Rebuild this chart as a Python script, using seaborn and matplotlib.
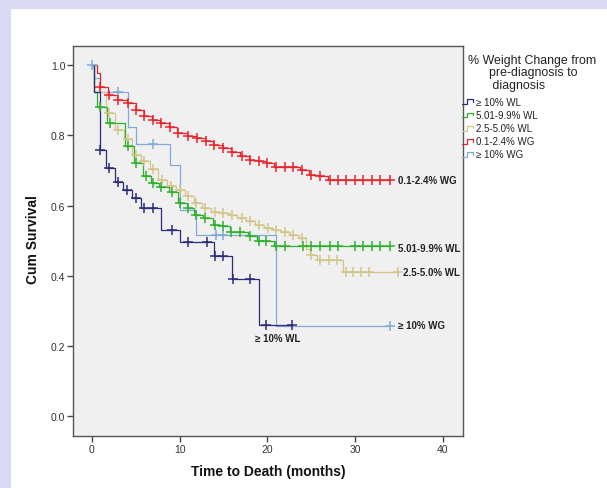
import numpy as np
import pandas as pd
import seaborn as sns
import matplotlib.pyplot as plt
from matplotlib.legend_handler import HandlerBase
from matplotlib.lines import Line2D
from matplotlib.patches import Rectangle
from matplotlib.ticker import FormatStrFormatter

# group names and colours (legend order)
groups = ["≥ 10% WL", "5.01-9.9% WL", "2.5-5.0% WL", "0.1-2.4% WG", "≥ 10% WG"]
colors = ["#2b2d7c", "#2fb02f", "#d3c68c", "#e8242c", "#80aad8"]

# step times / survival after each event, censor times
wl10_times = [0.3, 1.0, 1.6, 2.6, 3.6, 4.6, 5.6, 7.9, 10.0, 13.9, 16.0, 19.0]
wl10_surv = [0.925, 0.759, 0.708, 0.667, 0.645, 0.621, 0.593, 0.531, 0.496, 0.455, 0.390, 0.26]
wl10_cens = [1.0, 2.0, 3.0, 4.0, 5.1, 6.0, 7.0, 9.1, 11.0, 13.1, 14.0, 15.0, 16.1, 18.0, 19.9, 22.8]

wl5_times = [0.3, 0.6, 1.7, 3.8, 4.8, 5.85, 6.8, 7.7, 8.8, 9.8, 10.8, 11.7, 12.7, 13.8,
             14.8, 15.7, 17.8, 18.8, 20.8]
wl5_surv = [0.925, 0.882, 0.835, 0.771, 0.721, 0.683, 0.664, 0.654, 0.640, 0.607, 0.593,
            0.573, 0.564, 0.545, 0.541, 0.526, 0.512, 0.498, 0.484]
wl5_cens = [1.0, 2.05, 4.1, 5.1, 6.2, 7.0, 7.9, 9.1, 10.0, 11.0, 11.9, 12.9, 14.0, 15.0,
            15.9, 16.9, 18.0, 19.0, 19.9, 21.0, 22.0, 24.1, 25.0, 26.0, 27.1, 28.1, 30.0,
            30.9, 31.9, 32.8, 34.0]

wl25_times = [0.3, 1.6, 2.6, 3.7, 4.6, 5.6, 6.6, 7.6, 8.6, 9.6, 10.6, 11.6, 12.6, 13.6,
              14.6, 15.6, 16.6, 17.6, 18.6, 19.6, 20.6, 21.6, 22.6, 23.6, 24.4, 24.9,
              25.6, 28.6]
wl25_surv = [0.925, 0.863, 0.816, 0.790, 0.745, 0.726, 0.705, 0.673, 0.655, 0.645, 0.626,
             0.607, 0.593, 0.583, 0.578, 0.574, 0.564, 0.555, 0.545, 0.536, 0.531, 0.526,
             0.516, 0.507, 0.475, 0.46, 0.445, 0.412]
wl25_cens = [2.0, 3.0, 4.1, 5.1, 6.0, 7.0, 8.0, 9.0, 10.0, 11.0, 11.9, 12.9, 14.0, 15.0,
             16.0, 17.1, 18.0, 19.0, 20.1, 21.0, 22.0, 22.9, 23.9, 25.0, 26.0, 27.0, 27.9,
             29.0, 29.8, 30.7, 31.6, 34.9]

wg01_times = [0.6, 1.0, 1.9, 2.9, 4.0, 5.0, 5.9, 6.9, 7.8, 8.8, 9.7, 10.9, 11.9, 12.9,
              13.8, 14.9, 15.9, 16.9, 17.9, 18.9, 19.8, 20.8, 23.7, 24.8, 25.8, 26.9]
wg01_surv = [0.977, 0.939, 0.915, 0.900, 0.892, 0.873, 0.854, 0.844, 0.835, 0.825, 0.806,
             0.797, 0.792, 0.783, 0.773, 0.764, 0.754, 0.740, 0.731, 0.726, 0.721, 0.711,
             0.702, 0.688, 0.683, 0.673]
wg01_cens = [1.0, 2.0, 3.0, 4.1, 5.1, 6.0, 7.0, 7.9, 8.9, 9.8, 11.0, 12.0, 13.0, 13.9,
             15.0, 16.0, 17.1, 18.0, 19.0, 20.0, 21.0, 22.0, 22.9, 24.0, 25.0, 26.0, 27.1,
             28.1, 29.0, 30.0, 30.9, 31.9, 32.8, 34.0]

wg10_times = [0.3, 1.0, 4.1, 5.1, 8.9, 10.0, 11.9, 21.0]
wg10_surv = [0.963, 0.925, 0.825, 0.775, 0.716, 0.588, 0.516, 0.258]
wg10_cens = [0.0, 3.0, 7.0, 14.2, 15.0, 34.0]

all_times = [wl10_times, wl5_times, wl25_times, wg01_times, wg10_times]
all_surv = [wl10_surv, wl5_surv, wl25_surv, wg01_surv, wg10_surv]
all_cens = [wl10_cens, wl5_cens, wl25_cens, wg01_cens, wg10_cens]

# curve end labels: (group index, time, survival)
end_labels = [(3, 34.9, 0.673), (1, 34.9, 0.48), (2, 35.5, 0.412), (4, 34.9, 0.26), (0, 18.6, 0.222)]

sns.set_theme(style="white")
plt.rcParams["font.family"] = ["Liberation Sans", "DejaVu Sans"]

fig = plt.figure(figsize=(6.07, 4.89), dpi=100, facecolor="#d9d9f5")
fig.add_artist(Rectangle((11 / 607, 0), 1, 1 - 10 / 489, transform=fig.transFigure,
                         facecolor="white", edgecolor="none", zorder=0))
ax = fig.add_axes([73 / 607, 1 - 437 / 489, 390 / 607, 390 / 489])
ax.set_facecolor("#f0f0f0")

# draw curves, light blue first so the others sit over it
for i in [4, 2, 1, 3, 0]:
    t = [0.0] + all_times[i] + [max(all_cens[i])]
    s = [1.0] + all_surv[i] + [all_surv[i][-1]]
    df = pd.DataFrame({"time": t, "surv": s})
    sns.lineplot(data=df, x="time", y="surv", color=colors[i], drawstyle="steps-post",
                 estimator=None, sort=False, lw=0.9, ax=ax, zorder=2)
    ct = np.array(all_cens[i])
    idx = np.searchsorted(all_times[i], ct, side="right") - 1
    cy = np.where(idx < 0, 1.0, np.array(all_surv[i])[np.clip(idx, 0, None)])
    sns.scatterplot(x=ct, y=cy, marker="+", s=45, color=colors[i], linewidth=1.1,
                    ax=ax, zorder=3)

for gi, tx, ty in end_labels:
    ax.text(tx, ty, groups[gi], fontsize=7, fontweight="bold", color="#222222",
            ha="left", va="center")

ax.set_xlim(-2.13, 42.28)
ax.set_ylim(-0.057, 1.055)
ax.set_xticks([0, 10, 20, 30, 40])
ax.set_yticks([0.0, 0.2, 0.4, 0.6, 0.8, 1.0])
ax.yaxis.set_major_formatter(FormatStrFormatter("%.1f"))
ax.tick_params(axis="both", which="major", labelsize=7.5, length=4, width=1,
               color="#444444", labelcolor="#333333", pad=1.5, direction="out")
ax.tick_params(left=True, bottom=True)
for sp in ax.spines.values():
    sp.set_color("#555555")
    sp.set_linewidth(1)

ax.set_xlabel("Time to Death (months)", fontsize=10, fontweight="bold", color="#111111")
ax.set_ylabel("Cum Survival", fontsize=10, fontweight="bold", color="#111111")
ax.xaxis.set_label_coords(0.5, -0.072)
ax.yaxis.set_label_coords(-0.085, 0.505)


class StepHandler(HandlerBase):
    def create_artists(self, legend, orig_handle, xdescent, ydescent, width, height,
                       fontsize, trans):
        xs = np.array([0, 0.45, 0.45, 0.9, 0.9]) * width - xdescent
        ys = np.array([0.05, 0.05, 0.85, 0.85, 0.4]) * height - ydescent
        return [Line2D(xs, ys, color=orig_handle.get_color(), lw=0.9, transform=trans)]


handles = [Line2D([], [], color=c) for c in colors]
fig.legend(handles, groups, handler_map={Line2D: StepHandler()}, loc="upper left",
           bbox_to_anchor=(462 / 607, 1 - 98 / 489), frameon=False, fontsize=7,
           handlelength=1.25, handleheight=0.6, handletextpad=0.2, labelspacing=0.32,
           borderpad=0, borderaxespad=0, labelcolor="#222222")
fig.text(468 / 607, 1 - 55 / 489,
         "% Weight Change from\n      pre-diagnosis to\n       diagnosis",
         ha="left", va="top", fontsize=8.9, linespacing=1.05, color="#222222")

fig.savefig("out.png", dpi=100, facecolor=fig.get_facecolor())
